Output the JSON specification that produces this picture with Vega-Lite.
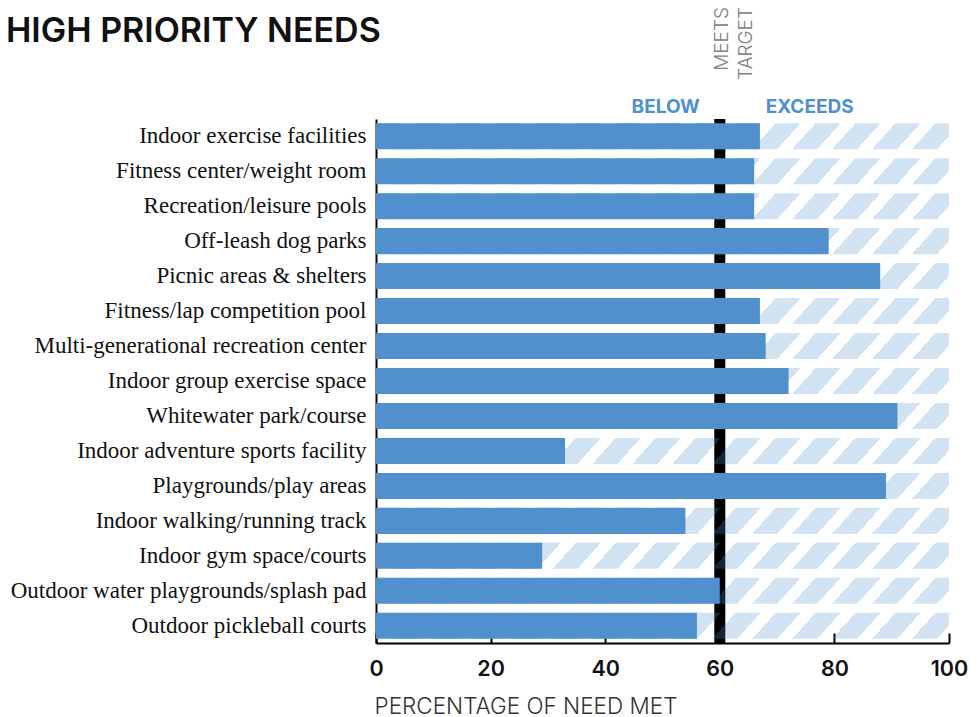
{
  "$schema": "https://vega.github.io/schema/vega-lite/v6.json",
  "width": 573,
  "height": 524,
  "autosize": {"type": "none"},
  "padding": {"left": 376, "top": 119, "right": 31, "bottom": 74},
  "background": "white",
  "config": {
    "view": {"stroke": null},
    "font": "Inter"
  },
  "title": {
    "text": "HIGH PRIORITY NEEDS",
    "anchor": "start",
    "frame": "group",
    "dx": -370,
    "baseline": "alphabetic",
    "offset": 0,
    "dy": 69,
    "font": "Inter",
    "fontSize": 34,
    "fontWeight": 600,
    "color": "#111111"
  },
  "data": {
    "values": [
      {"need": "Indoor exercise facilities", "met": 67},
      {"need": "Fitness center/weight room", "met": 66},
      {"need": "Recreation/leisure pools", "met": 66},
      {"need": "Off-leash dog parks", "met": 79},
      {"need": "Picnic areas & shelters", "met": 88},
      {"need": "Fitness/lap competition pool", "met": 67},
      {"need": "Multi-generational recreation center", "met": 68},
      {"need": "Indoor group exercise space ", "met": 72},
      {"need": "Whitewater park/course", "met": 91},
      {"need": "Indoor adventure sports facility", "met": 33},
      {"need": "Playgrounds/play areas", "met": 89},
      {"need": "Indoor walking/running track", "met": 54},
      {"need": "Indoor gym space/courts ", "met": 29},
      {"need": "Outdoor water playgrounds/splash pad", "met": 60},
      {"need": "Outdoor pickleball courts", "met": 56}
    ]
  },
  "layer": [
    {
      "data": {"values": [{"target": 60}]},
      "mark": {"type": "rule", "color": "#000000", "strokeWidth": 11, "y2Offset": -47},
      "encoding": {
        "x": {"field": "target", "type": "quantitative", "scale": {"domain": [0, 100], "nice": false}}
      }
    },
    {
      "mark": {
        "type": "bar",
        "fill": {
          "gradient": "linear",
          "x1": 0, "y1": 0, "x2": 1.0391, "y2": 0.04244,
          "stops": [
            {"offset": 0, "color": "rgba(79,144,205,0.26)"},
            {"offset": 0.042, "color": "rgba(79,144,205,0.26)"},
            {"offset": 0.042, "color": "rgba(79,144,205,0)"},
            {"offset": 0.067, "color": "rgba(79,144,205,0)"},
            {"offset": 0.067, "color": "rgba(79,144,205,0.26)"},
            {"offset": 0.109, "color": "rgba(79,144,205,0.26)"},
            {"offset": 0.109, "color": "rgba(79,144,205,0)"},
            {"offset": 0.134, "color": "rgba(79,144,205,0)"},
            {"offset": 0.134, "color": "rgba(79,144,205,0.26)"},
            {"offset": 0.176, "color": "rgba(79,144,205,0.26)"},
            {"offset": 0.176, "color": "rgba(79,144,205,0)"},
            {"offset": 0.201, "color": "rgba(79,144,205,0)"},
            {"offset": 0.201, "color": "rgba(79,144,205,0.26)"},
            {"offset": 0.243, "color": "rgba(79,144,205,0.26)"},
            {"offset": 0.243, "color": "rgba(79,144,205,0)"},
            {"offset": 0.268, "color": "rgba(79,144,205,0)"},
            {"offset": 0.268, "color": "rgba(79,144,205,0.26)"},
            {"offset": 0.31, "color": "rgba(79,144,205,0.26)"},
            {"offset": 0.31, "color": "rgba(79,144,205,0)"},
            {"offset": 0.335, "color": "rgba(79,144,205,0)"},
            {"offset": 0.335, "color": "rgba(79,144,205,0.26)"},
            {"offset": 0.377, "color": "rgba(79,144,205,0.26)"},
            {"offset": 0.377, "color": "rgba(79,144,205,0)"},
            {"offset": 0.402, "color": "rgba(79,144,205,0)"},
            {"offset": 0.402, "color": "rgba(79,144,205,0.26)"},
            {"offset": 0.444, "color": "rgba(79,144,205,0.26)"},
            {"offset": 0.444, "color": "rgba(79,144,205,0)"},
            {"offset": 0.469, "color": "rgba(79,144,205,0)"},
            {"offset": 0.469, "color": "rgba(79,144,205,0.26)"},
            {"offset": 0.511, "color": "rgba(79,144,205,0.26)"},
            {"offset": 0.511, "color": "rgba(79,144,205,0)"},
            {"offset": 0.536, "color": "rgba(79,144,205,0)"},
            {"offset": 0.536, "color": "rgba(79,144,205,0.26)"},
            {"offset": 0.578, "color": "rgba(79,144,205,0.26)"},
            {"offset": 0.578, "color": "rgba(79,144,205,0)"},
            {"offset": 0.603, "color": "rgba(79,144,205,0)"},
            {"offset": 0.603, "color": "rgba(79,144,205,0.26)"},
            {"offset": 0.645, "color": "rgba(79,144,205,0.26)"},
            {"offset": 0.645, "color": "rgba(79,144,205,0)"},
            {"offset": 0.67, "color": "rgba(79,144,205,0)"},
            {"offset": 0.67, "color": "rgba(79,144,205,0.26)"},
            {"offset": 0.712, "color": "rgba(79,144,205,0.26)"},
            {"offset": 0.712, "color": "rgba(79,144,205,0)"},
            {"offset": 0.737, "color": "rgba(79,144,205,0)"},
            {"offset": 0.737, "color": "rgba(79,144,205,0.26)"},
            {"offset": 0.779, "color": "rgba(79,144,205,0.26)"},
            {"offset": 0.779, "color": "rgba(79,144,205,0)"},
            {"offset": 0.804, "color": "rgba(79,144,205,0)"},
            {"offset": 0.804, "color": "rgba(79,144,205,0.26)"},
            {"offset": 0.846, "color": "rgba(79,144,205,0.26)"},
            {"offset": 0.846, "color": "rgba(79,144,205,0)"},
            {"offset": 0.871, "color": "rgba(79,144,205,0)"},
            {"offset": 0.871, "color": "rgba(79,144,205,0.26)"},
            {"offset": 0.913, "color": "rgba(79,144,205,0.26)"},
            {"offset": 0.913, "color": "rgba(79,144,205,0)"},
            {"offset": 0.938, "color": "rgba(79,144,205,0)"},
            {"offset": 0.938, "color": "rgba(79,144,205,0.26)"},
            {"offset": 0.98, "color": "rgba(79,144,205,0.26)"},
            {"offset": 0.98, "color": "rgba(79,144,205,0)"},
            {"offset": 1, "color": "rgba(79,144,205,0)"}
          ]
        }
      },
      "encoding": {
        "y": {"field": "need", "type": "nominal", "sort": null},
        "x": {"datum": 0, "type": "quantitative"},
        "x2": {"datum": 100}
      }
    },
    {
      "mark": {"type": "bar", "color": "#4f90cd"},
      "encoding": {
        "y": {
          "field": "need",
          "type": "nominal",
          "sort": null,
          "scale": {"paddingInner": 0.256, "paddingOuter": 0.12},
          "axis": {
            "title": null,
            "ticks": false,
            "domain": true,
            "domainColor": "#000000",
            "domainWidth": 2,
            "labelFont": "Liberation Serif",
            "labelFontSize": 23,
            "labelColor": "#111111",
            "labelPadding": 10,
            "labelLimit": 400
          }
        },
        "x": {
          "field": "met",
          "type": "quantitative",
          "scale": {"domain": [0, 100], "nice": false},
          "axis": {
            "title": "PERCENTAGE OF NEED MET",
            "values": [0, 20, 40, 60, 80, 100],
            "grid": false,
            "domainColor": "#000000",
            "domainWidth": 2,
            "tickColor": "#000000",
            "tickWidth": 2,
            "tickSize": -10,
            "labelPadding": 25,
            "labelFont": "Inter",
            "labelFontSize": 21.5,
            "labelFontWeight": 600,
            "labelColor": "#111111",
            "labelFlush": false,
            "titleFont": "Inter",
            "titleFontSize": 22.5,
            "titleFontWeight": 300,
            "titleColor": "#333333",
            "titleAnchor": "start",
            "titleAlign": "left",
            "titleBaseline": "alphabetic",
            "titleX": -2,
            "titleY": 70
          }
        }
      }
    },
    {
      "data": {"values": [{"target": 60, "note": "BELOW"}]},
      "mark": {"type": "text", "align": "right", "baseline": "alphabetic", "dx": -20, "dy": -6, "font": "Inter", "fontSize": 19, "fontWeight": 700, "color": "#4f90cd"},
      "encoding": {
        "x": {"field": "target", "type": "quantitative"},
        "y": {"value": 0},
        "text": {"field": "note"}
      }
    },
    {
      "data": {"values": [{"target": 60, "note": "EXCEEDS"}]},
      "mark": {"type": "text", "align": "left", "baseline": "alphabetic", "dx": 46, "dy": -6, "font": "Inter", "fontSize": 19, "fontWeight": 700, "color": "#4f90cd"},
      "encoding": {
        "x": {"field": "target", "type": "quantitative"},
        "y": {"value": 0},
        "text": {"field": "note"}
      }
    },
    {
      "data": {"values": [{"target": 60}]},
      "mark": {"type": "text", "text": ["MEETS", "TARGET"], "angle": 270, "align": "right", "baseline": "top", "dx": 112, "dy": -7, "lineHeight": 24, "font": "Inter", "fontSize": 19, "fontWeight": 300, "color": "#808080"},
      "encoding": {
        "x": {"field": "target", "type": "quantitative"},
        "y": {"value": 0}
      }
    }
  ]
}
